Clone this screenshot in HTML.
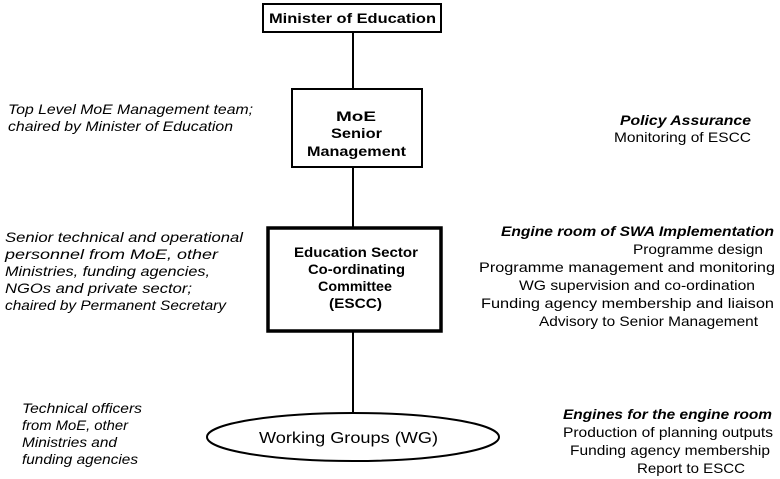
<!DOCTYPE html>
<html><head><meta charset="utf-8"><style>
html,body{margin:0;padding:0;background:#fff;}
svg{display:block;font-family:"Liberation Sans",Arial,sans-serif;}
.i{font-style:italic;font-size:14px;}
.r{font-size:14px;}
.b{font-weight:bold;font-size:14px;}
</style></head><body>
<svg width="780" height="479" viewBox="0 0 780 479" xmlns="http://www.w3.org/2000/svg">
<g stroke="#000" fill="none">
<line x1="353" y1="32" x2="353" y2="89" stroke-width="2"/>
<line x1="353" y1="167" x2="353" y2="228" stroke-width="2"/>
<line x1="353" y1="332" x2="353" y2="413" stroke-width="2"/>
<rect x="263" y="4" width="178" height="28" stroke-width="2" fill="#fff"/>
<rect x="292" y="89" width="130" height="78" stroke-width="2" fill="#fff"/>
<rect x="268" y="228" width="173" height="103" stroke-width="3.5" fill="#fff"/>
<ellipse cx="353" cy="437" rx="146" ry="24" stroke-width="2" fill="#fff"/>
</g>
<g fill="#000">
<text x="269" y="23" class="b" textLength="167" lengthAdjust="spacingAndGlyphs">Minister of Education</text>
<text x="336" y="121" class="b" textLength="40" lengthAdjust="spacingAndGlyphs">MoE</text>
<text x="331" y="138" class="b" textLength="51" lengthAdjust="spacingAndGlyphs">Senior</text>
<text x="307" y="156" class="b" textLength="99" lengthAdjust="spacingAndGlyphs">Management</text>
<text x="294" y="257" class="b" textLength="124" lengthAdjust="spacingAndGlyphs">Education Sector</text>
<text x="308" y="274" class="b" textLength="97" lengthAdjust="spacingAndGlyphs">Co-ordinating</text>
<text x="318" y="291" class="b" textLength="74" lengthAdjust="spacingAndGlyphs">Committee</text>
<text x="329" y="308" class="b" textLength="53" lengthAdjust="spacingAndGlyphs">(ESCC)</text>
<text x="259" y="443" style="font-size:16px" textLength="179" lengthAdjust="spacingAndGlyphs">Working Groups (WG)</text>

<text x="8" y="114" class="i" textLength="245" lengthAdjust="spacingAndGlyphs">Top Level MoE Management team;</text>
<text x="8" y="131" class="i" textLength="225" lengthAdjust="spacingAndGlyphs">chaired by Minister of Education</text>
<text x="5" y="242" class="i" textLength="238" lengthAdjust="spacingAndGlyphs">Senior technical and operational</text>
<text x="5" y="259" class="i" textLength="213" lengthAdjust="spacingAndGlyphs">personnel from MoE, other</text>
<text x="5" y="276" class="i" textLength="205" lengthAdjust="spacingAndGlyphs">Ministries, funding agencies,</text>
<text x="5" y="293" class="i" textLength="187" lengthAdjust="spacingAndGlyphs">NGOs and private sector;</text>
<text x="5" y="310" class="i" textLength="221" lengthAdjust="spacingAndGlyphs">chaired by Permanent Secretary</text>
<text x="22" y="413" class="i" textLength="120" lengthAdjust="spacingAndGlyphs">Technical officers</text>
<text x="22" y="430" class="i" textLength="106" lengthAdjust="spacingAndGlyphs">from MoE, other</text>
<text x="22" y="447" class="i" textLength="95" lengthAdjust="spacingAndGlyphs">Ministries and</text>
<text x="22" y="464" class="i" textLength="116" lengthAdjust="spacingAndGlyphs">funding agencies</text>

<text x="620" y="125" class="i" font-weight="bold" textLength="131" lengthAdjust="spacingAndGlyphs">Policy Assurance</text>
<text x="614" y="142" class="r" textLength="137" lengthAdjust="spacingAndGlyphs">Monitoring of ESCC</text>
<text x="501" y="236" class="i" font-weight="bold" textLength="273" lengthAdjust="spacingAndGlyphs">Engine room of SWA Implementation</text>
<text x="633" y="254" class="r" textLength="130" lengthAdjust="spacingAndGlyphs">Programme design</text>
<text x="479" y="272" class="r" textLength="296" lengthAdjust="spacingAndGlyphs">Programme management and monitoring</text>
<text x="519" y="290" class="r" textLength="236" lengthAdjust="spacingAndGlyphs">WG supervision and co-ordination</text>
<text x="481" y="308" class="r" textLength="293" lengthAdjust="spacingAndGlyphs">Funding agency membership and liaison</text>
<text x="539" y="326" class="r" textLength="219" lengthAdjust="spacingAndGlyphs">Advisory to Senior Management</text>
<text x="563" y="419" class="i" font-weight="bold" textLength="209" lengthAdjust="spacingAndGlyphs">Engines for the engine room</text>
<text x="563" y="437" class="r" textLength="210" lengthAdjust="spacingAndGlyphs">Production of planning outputs</text>
<text x="570" y="455" class="r" textLength="200" lengthAdjust="spacingAndGlyphs">Funding agency membership</text>
<text x="637" y="473" class="r" textLength="108" lengthAdjust="spacingAndGlyphs">Report to ESCC</text>
</g>
</svg>
</body></html>
